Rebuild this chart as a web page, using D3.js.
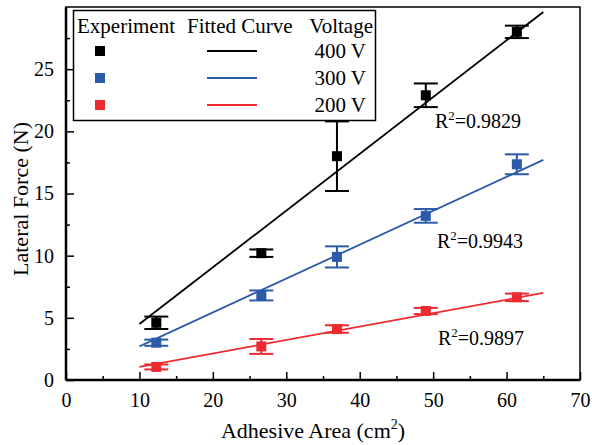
<!DOCTYPE html>
<html>
<head>
<meta charset="utf-8">
<script src="https://cdn.jsdelivr.net/npm/d3@7"></script>
<style>
  body { margin: 0; background: #fff; }
  svg text { font-family: 'Liberation Serif', 'Times New Roman', Times, 'DejaVu Serif', serif; }
</style>
</head>
<body>
<svg id="chart" width="592" height="445"></svg>
<script>
// data
var areas = [12.3, 26.6, 36.9, 49.0, 61.4];
var force400 = [4.6, 10.2, 18.0, 22.9, 28.0];
var err400 = [0.5, 0.3, 2.8, 0.95, 0.5];
var force300 = [3.0, 6.8, 9.9, 13.2, 17.35];
var err300 = [0.25, 0.4, 0.85, 0.55, 0.8];
var force200 = [1.05, 2.7, 4.1, 5.55, 6.65];
var err200 = [0.2, 0.6, 0.3, 0.25, 0.3];

var fitX = [10, 65];
var fit400 = [4.5, 29.6];
var fit300 = [2.7, 17.7];
var fit200 = [1.05, 7.0];

var voltages = ["400 V", "300 V", "200 V"];
var r2Labels = ["0.9829", "0.9943", "0.9897"];
var xTicks = [0, 10, 20, 30, 40, 50, 60, 70];
var yTicks = [0, 5, 10, 15, 20, 25];

var colors = ["#000000", "#2b5ba8", "#ec2a2f"];
var serif = "'Liberation Serif', 'Times New Roman', Times, 'DejaVu Serif', serif";

var svg = d3.select("#chart").attr("font-family", serif);
var x = d3.scaleLinear().domain([0, 70]).range([66, 580]);
var y = d3.scaleLinear().domain([0, 30]).range([380, 7]);

// minor ticks
var xMinor = d3.range(5, 70, 10);
var yMinor = d3.range(2.5, 30, 5);

svg.append("g")
  .attr("transform", "translate(0,380)")
  .call(d3.axisBottom(x).tickValues(xMinor).tickSize(-4).tickFormat(""))
  .call(function (g) { g.select(".domain").remove(); g.selectAll("line").attr("stroke-width", 1.5); });
svg.append("g")
  .attr("transform", "translate(66,0)")
  .call(d3.axisLeft(y).tickValues(yMinor).tickSize(-4).tickFormat(""))
  .call(function (g) { g.select(".domain").remove(); g.selectAll("line").attr("stroke-width", 1.5); });

var xAxis = svg.append("g")
  .attr("transform", "translate(0,380)")
  .call(d3.axisBottom(x).tickValues(xTicks).tickSize(-8).tickPadding(13));
xAxis.attr("font-family", serif).attr("font-size", 20);
xAxis.select(".domain").remove();
xAxis.selectAll("line").attr("stroke-width", 1.5);
xAxis.selectAll("text").attr("fill", "#000");

var yAxis = svg.append("g")
  .attr("transform", "translate(66,0)")
  .call(d3.axisLeft(y).tickValues(yTicks).tickSize(-8).tickPadding(12));
yAxis.attr("font-family", serif).attr("font-size", 20);
yAxis.select(".domain").remove();
yAxis.selectAll("line").attr("stroke-width", 1.5);
yAxis.selectAll("text").attr("fill", "#000");

// frame
svg.append("rect")
  .attr("x", 66).attr("y", 7).attr("width", 514).attr("height", 373)
  .attr("fill", "none").attr("stroke", "#000").attr("stroke-width", 1.5);
svg.append("line").attr("x1", 66).attr("x2", 580).attr("y1", 380).attr("y2", 380)
  .attr("stroke", "#000").attr("stroke-width", 2.5);
svg.append("line").attr("x1", 66).attr("x2", 66).attr("y1", 7).attr("y2", 380)
  .attr("stroke", "#000").attr("stroke-width", 2.5);

// axis titles
svg.append("text")
  .attr("x", 313).attr("y", 438)
  .attr("text-anchor", "middle").attr("font-size", 22)
  .html('Adhesive Area (cm<tspan dy="-9" font-size="14">2</tspan><tspan dy="9">)</tspan>');
svg.append("text")
  .attr("transform", "translate(28,199) rotate(-90)")
  .attr("text-anchor", "middle").attr("font-size", 22)
  .text("Lateral Force (N)");

var series = [
  { vals: force400, errs: err400, fit: fit400, color: colors[0] },
  { vals: force300, errs: err300, fit: fit300, color: colors[1] },
  { vals: force200, errs: err200, fit: fit200, color: colors[2] }
];

var line = d3.line().x(function (d) { return x(d[0]); }).y(function (d) { return y(d[1]); });

series.forEach(function (s) {
  svg.append("path")
    .attr("d", line(fitX.map(function (v, i) { return [v, s.fit[i]]; })))
    .attr("stroke", s.color).attr("stroke-width", 1.8).attr("fill", "none");

  var pts = areas.map(function (a, i) { return { a: a, v: s.vals[i], e: s.errs[i] }; });
  var g = svg.append("g").attr("stroke", s.color).attr("stroke-width", 2);
  g.selectAll(".bar").data(pts).enter().append("line")
    .attr("x1", function (d) { return x(d.a); }).attr("x2", function (d) { return x(d.a); })
    .attr("y1", function (d) { return y(d.v + d.e); }).attr("y2", function (d) { return y(d.v - d.e); });
  g.selectAll(".capT").data(pts).enter().append("line")
    .attr("x1", function (d) { return x(d.a) - 12; }).attr("x2", function (d) { return x(d.a) + 12; })
    .attr("y1", function (d) { return y(d.v + d.e); }).attr("y2", function (d) { return y(d.v + d.e); });
  g.selectAll(".capB").data(pts).enter().append("line")
    .attr("x1", function (d) { return x(d.a) - 12; }).attr("x2", function (d) { return x(d.a) + 12; })
    .attr("y1", function (d) { return y(d.v - d.e); }).attr("y2", function (d) { return y(d.v - d.e); });
  svg.append("g").selectAll("rect").data(pts).enter().append("rect")
    .attr("x", function (d) { return x(d.a) - 5; }).attr("y", function (d) { return y(d.v) - 5; })
    .attr("width", 10).attr("height", 10).attr("fill", s.color);
});

// R^2 labels
var r2Pos = [[435, 128], [437, 248], [438, 345]];
r2Labels.forEach(function (t, i) {
  svg.append("text")
    .attr("x", r2Pos[i][0]).attr("y", r2Pos[i][1]).attr("font-size", 20)
    .html('R<tspan dy="-8" font-size="13">2</tspan><tspan dy="8">=' + t + '</tspan>');
});

// legend
var leg = svg.append("g").attr("font-size", 21);
leg.append("rect").attr("x", 73.5).attr("y", 10.5).attr("width", 302).attr("height", 110)
  .attr("fill", "#fff").attr("stroke", "#000").attr("stroke-width", 1.5);
leg.append("text").attr("x", 77).attr("y", 33).text("Experiment");
leg.append("text").attr("x", 187).attr("y", 33).text("Fitted Curve");
leg.append("text").attr("x", 373).attr("y", 33).attr("text-anchor", "end").text("Voltage");
voltages.forEach(function (v, i) {
  var cy = 51 + i * 27;
  leg.append("rect").attr("x", 95).attr("y", cy - 5).attr("width", 10).attr("height", 10).attr("fill", colors[i]);
  leg.append("line").attr("x1", 207).attr("x2", 257).attr("y1", cy).attr("y2", cy)
    .attr("stroke", colors[i]).attr("stroke-width", 1.8);
  leg.append("text").attr("x", 366).attr("y", cy + 7).attr("text-anchor", "end").text(v);
});
</script>
</body>
</html>
